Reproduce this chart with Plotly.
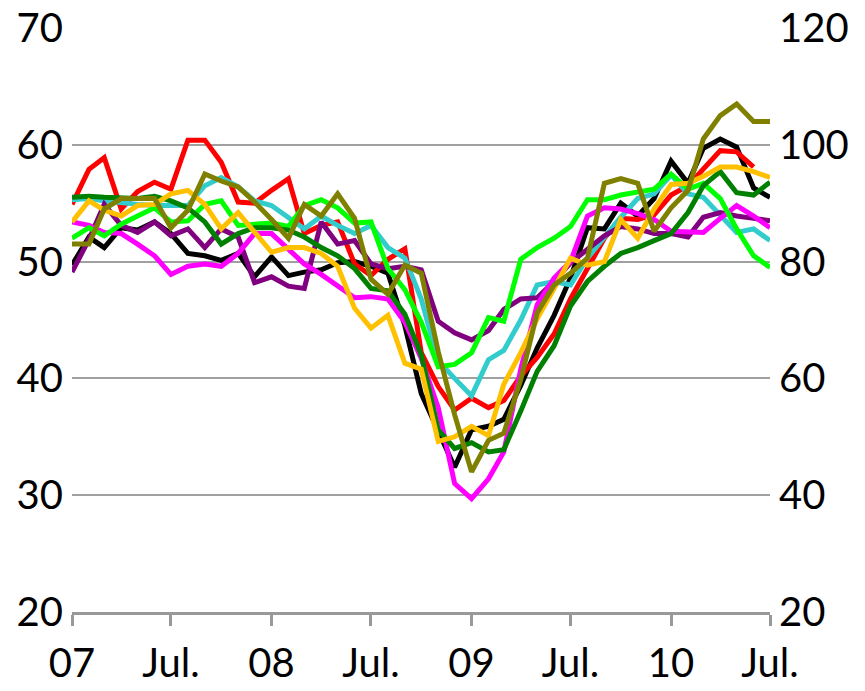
import pandas as pd
import plotly.graph_objects as go

# monthly, Jan 2007 .. Jul 2010
months = pd.date_range("2007-01-01", "2010-07-01", freq="MS")

tick_dates = ["2007-01-01", "2007-07-01", "2008-01-01", "2008-07-01",
              "2009-01-01", "2009-07-01", "2010-01-01", "2010-07-01"]
tick_text = ["07", "Jul.", "08", "Jul.", "09", "Jul.", "10", "Jul."]

# left-axis series
black = [49.7, 52.1, 51.2, 52.9, 52.7, 53.4, 52.4, 50.7, 50.5, 50.1, 50.7, 48.7, 50.4, 48.8,
         49.1, 49.3, 49.9, 50.0, 49.6, 49.0, 44.5, 38.7, 35.5, 32.4, 35.6, 35.9, 36.5, 39.4,
         42.6, 45.4, 48.6, 52.9, 52.8, 55.0, 53.9, 55.4, 58.6, 56.7, 59.7, 60.5, 59.8, 56.3, 55.5]
red = [54.9, 57.9, 58.9, 54.5, 56.0, 56.8, 56.2, 60.4, 60.4, 58.5, 55.1, 55.0, 56.1, 57.1,
       52.4, 53.1, 53.4, 49.8, 48.8, 50.2, 51.1, 42.2, 39.3, 37.3, 38.3, 37.5, 38.1, 40.2,
       41.8, 43.8, 46.8, 49.4, 52.0, 53.7, 53.6, 54.0, 55.7, 56.5, 57.9, 59.5, 59.4, 58.1]
cyan = [55.3, 55.4, 55.2, 55.0, 54.9, 54.8, 54.8, 54.8, 56.5, 57.2, 56.4, 55.2, 54.8, 53.8,
        52.8, 53.9, 53.1, 52.4, 53.1, 51.2, 50.3, 46.8, 41.5, 40.0, 38.5, 41.6, 42.4, 45.0,
        48.0, 48.3, 48.0, 50.3, 52.1, 53.8, 55.4, 55.8, 57.4, 55.8, 55.5, 53.9, 52.5, 52.8, 51.8]
purple = [49.1, 51.9, 54.9, 53.1, 52.5, 53.4, 52.2, 52.8, 51.2, 52.8, 52.1, 48.2, 48.7, 47.9,
          47.7, 53.4, 51.5, 51.8, 49.8, 49.4, 49.6, 49.3, 44.9, 43.9, 43.3, 44.1, 45.9, 46.8,
          46.9, 48.3, 49.9, 51.0, 52.2, 53.0, 52.8, 52.4, 52.4, 52.1, 53.8, 54.2, 53.9, 53.7, 53.5]
magenta = [53.4, 53.1, 52.5, 52.4, 51.5, 50.5, 48.9, 49.6, 49.8, 49.6, 50.7, 52.4, 52.4, 51.1,
           49.8, 48.9, 47.9, 46.9, 47.0, 46.8, 44.8, 41.7, 37.5, 31.0, 29.7, 31.4, 33.7, 40.8,
           46.3, 48.6, 50.0, 53.9, 54.6, 54.5, 54.1, 53.6, 52.6, 52.5, 52.5, 53.7, 54.8, 53.9, 52.9]
lime = [52.0, 52.9, 52.2, 53.2, 53.9, 54.6, 53.4, 53.5, 54.9, 55.2, 53.1, 53.2, 53.3, 53.0,
        54.8, 55.3, 54.6, 53.3, 53.4, 49.4, 47.6, 44.8, 41.0, 41.2, 42.2, 45.2, 44.9, 50.2,
        51.2, 52.0, 53.0, 55.3, 55.3, 55.7, 55.9, 56.2, 57.5, 56.2, 56.7, 55.4, 52.8, 50.5, 49.5]
dkgreen = [55.5, 55.6, 55.5, 55.4, 55.4, 55.6, 55.2, 54.6, 53.4, 51.5, 52.4, 52.9, 52.9, 52.7,
           52.1, 51.2, 50.5, 49.4, 47.7, 47.5, 45.5, 42.0, 35.6, 34.0, 34.5, 33.7, 33.9, 37.2,
           40.6, 42.8, 46.2, 48.3, 49.6, 50.7, 51.2, 51.8, 52.4, 54.2, 56.5, 57.7, 55.9, 55.7, 56.8]
gold = [53.4, 55.2, 54.4, 53.9, 54.8, 54.9, 55.8, 56.1, 54.9, 52.8, 54.2, 52.5, 50.8, 51.2,
        51.2, 50.7, 49.6, 46.0, 44.3, 45.4, 41.3, 40.8, 34.6, 35.0, 35.9, 35.1, 39.5, 42.2,
        45.1, 47.7, 50.3, 49.7, 50.0, 53.6, 52.0, 54.5, 56.6, 56.7, 57.3, 58.1, 58.1, 57.7, 57.2]

# right-axis series
olive = [83.0, 83.0, 89.0, 90.8, 90.8, 90.8, 85.8, 88.8, 95.0, 93.8, 92.8, 90.2, 87.2, 84.0,
         89.8, 87.8, 91.6, 87.4, 77.0, 74.4, 79.4, 78.0, 64.6, 53.8, 44.0, 49.4, 50.6, 59.8,
         71.2, 76.0, 78.0, 80.6, 93.4, 94.2, 93.4, 85.2, 89.2, 92.2, 101.0, 105.0, 107.0, 104.0, 104.0]

left_series = [
    ("black", black, "#000000"),
    ("red", red, "#ff0000"),
    ("cyan", cyan, "#33cccc"),
    ("purple", purple, "#800080"),
    ("magenta", magenta, "#ff00ff"),
    ("lime", lime, "#00ff00"),
    ("dkgreen", dkgreen, "#008000"),
    ("gold", gold, "#ffc000"),
]

fig = go.Figure()
for name, vals, col in left_series:
    fig.add_trace(go.Scatter(x=months[:len(vals)], y=vals, name=name, mode="lines",
                             line=dict(color=col, width=5)))
fig.add_trace(go.Scatter(x=months, y=olive, name="olive", mode="lines", yaxis="y2",
                         line=dict(color="#808000", width=5)))

tick_font = dict(family="Lato, Open Sans, sans-serif", size=40, color="black")

# page body adds an 8px offset, so the figure is 8px smaller each way
fig.update_layout(
    width=857, height=683,
    margin=dict(l=64, r=95, t=20, b=79, autoexpand=False),
    plot_bgcolor="white", paper_bgcolor="white",
    showlegend=False,
    xaxis=dict(range=[months[0], months[-1]], tickvals=tick_dates, ticktext=tick_text,
               showgrid=False, zeroline=False, showline=True, linecolor="#999999", linewidth=3,
               ticks="outside", ticklen=11, tickwidth=3, tickcolor="#999999",
               tickfont=tick_font, ticklabelstandoff=3, automargin=False,
               ticklabeloverflow="allow"),
    yaxis=dict(range=[20, 70], dtick=10, showgrid=True, gridcolor="#a0a0a0", gridwidth=1.5,
               zeroline=False, showline=False, ticks="", tickfont=tick_font,
               ticklabelstandoff=8, automargin=False, ticklabeloverflow="allow"),
    yaxis2=dict(range=[20, 120], dtick=20, overlaying="y", side="right", showgrid=False,
                zeroline=False, showline=False, ticks="", tickfont=tick_font,
                ticklabelstandoff=8, automargin=False, ticklabeloverflow="allow"),
)

fig.write_html("out.html")
